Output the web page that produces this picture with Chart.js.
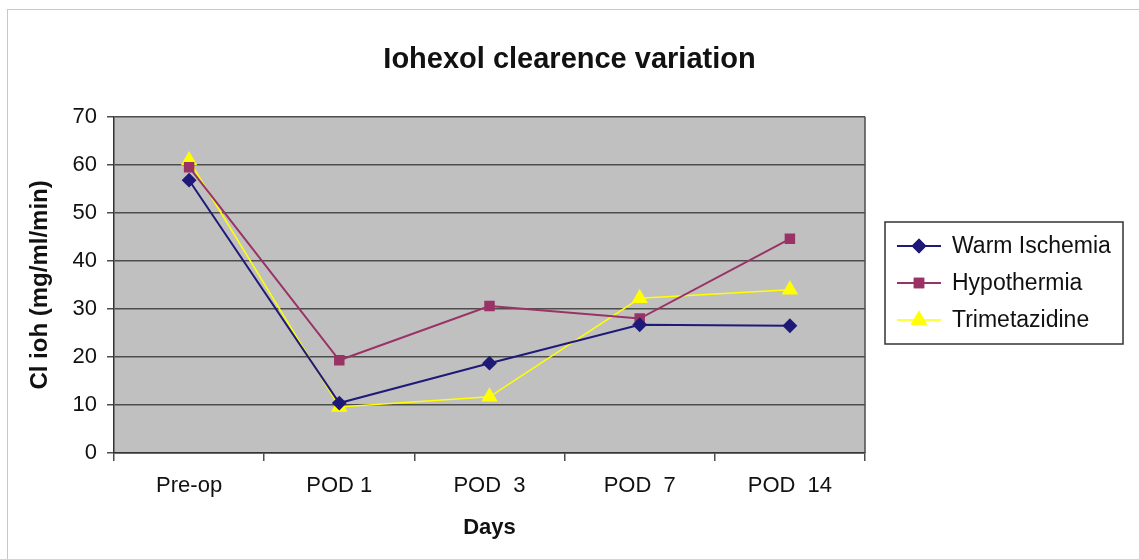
<!DOCTYPE html>
<html>
<head>
<meta charset="utf-8">
<script src="https://cdn.jsdelivr.net/npm/chart.js@4/dist/chart.umd.min.js"></script>
<style>
  html, body { margin: 0; padding: 0; background: #fff; }
  #wrap { position: relative; width: 1139px; height: 559px; }
  #frame { position: absolute; left: 7px; top: 9px; right: 0; bottom: 0;
           border-left: 1px solid #c8c8c8; border-top: 1px solid #c8c8c8; pointer-events: none; }
  canvas { position: absolute; left: 0; top: 0; }
</style>
</head>
<body>
<div id="wrap">
  <canvas id="chart" width="1139" height="559"></canvas>
  <div id="frame"></div>
</div>
<script>
// values
var categories = ['Pre-op', 'POD 1', 'POD  3', 'POD  7', 'POD  14']
var warmIschemia = [56.8, 10.4, 18.7, 26.7, 26.5]
var hypothermia = [59.5, 19.3, 30.6, 28.0, 44.6]
var trimetazidine = [60.9, 9.6, 11.7, 32.2, 34.0]
var yTicks = [0, 10, 20, 30, 40, 50, 60, 70]

var FONT = "'Liberation Sans', Arial, sans-serif"

// gray plot area + right edge line
var plotBg = {
  id: 'plotBg',
  beforeDraw: function(chart){
    var a = chart.chartArea, ctx = chart.ctx
    ctx.save()
    ctx.fillStyle = '#c0c0c0'
    ctx.fillRect(a.left, a.top, a.right - a.left, a.bottom - a.top)
    ctx.restore()
  },
  beforeDatasetsDraw: function(chart){
    var a = chart.chartArea, ctx = chart.ctx
    ctx.save()
    ctx.strokeStyle = '#4d4d4d'
    ctx.lineWidth = 1.5
    ctx.beginPath()
    ctx.moveTo(a.right, a.top)
    ctx.lineTo(a.right, a.bottom)
    ctx.stroke()
    ctx.restore()
  }
}

// boxed legend with line + marker, like the spreadsheet one
var boxLegend = {
  id: 'boxLegend',
  afterDraw: function(chart){
    var ctx = chart.ctx
    var x = 885, y = 222, w = 238, h = 122
    ctx.save()
    ctx.strokeStyle = '#333'
    ctx.lineWidth = 1.5
    ctx.strokeRect(x, y, w, h)
    ctx.font = '23px ' + FONT
    ctx.textBaseline = 'middle'
    ctx.fillStyle = '#111'
    chart.data.datasets.forEach(function(ds, i){
      var cy = y + 24 + i * 37
      ctx.strokeStyle = ds.borderColor
      ctx.lineWidth = ds.borderWidth
      ctx.beginPath()
      ctx.moveTo(897, cy)
      ctx.lineTo(941, cy)
      ctx.stroke()
      Chart.helpers.drawPoint(ctx, {
        pointStyle: ds.pointStyle, radius: ds.pointRadius, rotation: 0,
        borderWidth: 1
      }, 919, cy)
      ctx.fillStyle = ds.pointBackgroundColor
      ctx.strokeStyle = ds.pointBackgroundColor
      ctx.fill()
      ctx.stroke()
      ctx.fillStyle = '#111'
      ctx.fillText(ds.label, 952, cy + 1)
    })
    ctx.restore()
  }
}

function makeSet(label, data, color, style, radius, width){
  return {
    label: label,
    data: data,
    borderColor: color,
    backgroundColor: color,
    pointBackgroundColor: color,
    pointBorderColor: color,
    pointStyle: style,
    pointRadius: radius,
    pointHoverRadius: radius,
    borderWidth: width,
    tension: 0,
    fill: false
  }
}

new Chart(document.getElementById('chart').getContext('2d'), {
  type: 'line',
  data: {
    labels: categories,
    datasets: [
      makeSet('Warm Ischemia', warmIschemia, '#1f1a78', 'rectRot', 6, 2),
      makeSet('Hypothermia', hypothermia, '#993366', 'rect', 6, 2),
      makeSet('Trimetazidine', trimetazidine, '#ffff00', 'triangle', 8, 1.5)
    ]
  },
  options: {
    responsive: false,
    animation: false,
    layout: { padding: 0 },
    plugins: {
      legend: { display: false },
      tooltip: { enabled: false },
      title: {
        display: true,
        text: 'Iohexol clearence variation',
        color: '#111',
        font: { family: FONT, size: 29, weight: 'bold' },
        padding: { top: 43, bottom: 39 }
      }
    },
    scales: {
      x: {
        offset: true,
        grid: { offset: true, drawOnChartArea: false, tickLength: 8, color: '#4d4d4d', lineWidth: 1.5 },
        border: { display: true, color: '#333', width: 1.5 },
        ticks: { color: '#111', padding: 12, maxRotation: 0, font: { family: FONT, size: 22 } },
        title: { display: true, text: 'Days', color: '#111', padding: { top: 0, bottom: 18 },
                 font: { family: FONT, size: 22, weight: 'bold' } },
        afterFit: function(s){ s.height = 106 }
      },
      y: {
        min: 0,
        max: 70,
        afterBuildTicks: function(s){ s.ticks = yTicks.map(function(v){ return { value: v } }) },
        grid: { color: '#4d4d4d', lineWidth: 1.5, tickLength: 7 },
        border: { display: true, color: '#333', width: 1.5 },
        ticks: { color: '#111', padding: 10, font: { family: FONT, size: 22 } },
        title: { display: true, text: 'Cl ioh (mg/ml/min)', color: '#111', padding: { top: 26, bottom: 0 },
                 font: { family: FONT, size: 24, weight: 'bold' } },
        afterFit: function(s){ s.width = 114 }
      },
      // empty right axis: keeps room for the boxed legend
      yRoom: {
        position: 'right',
        display: true,
        grid: { display: false },
        border: { display: false },
        ticks: { display: false },
        afterFit: function(s){ s.width = 274 }
      }
    }
  },
  plugins: [plotBg, boxLegend]
})
</script>
</body>
</html>
